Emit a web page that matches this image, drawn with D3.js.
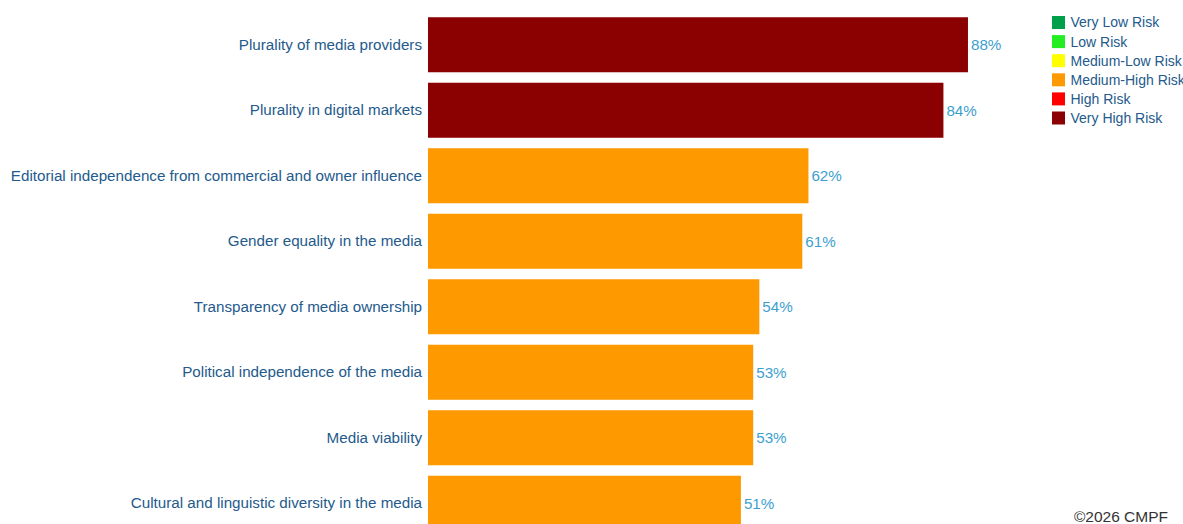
<!DOCTYPE html>
<html>
<head>
<meta charset="utf-8">
<script src="https://cdn.jsdelivr.net/npm/d3@7"></script>
<style>
  html, body { margin: 0; padding: 0; background: #fff; }
  svg { display: block; font-family: "Liberation Sans", Arial, sans-serif; }
</style>
</head>
<body>
<svg id="chart" width="1183" height="524"></svg>
<script>
// Indicator scores (percent risk), ordered from highest to lowest
const indicators = [
  "Plurality of media providers",
  "Plurality in digital markets",
  "Editorial independence from commercial and owner influence",
  "Gender equality in the media",
  "Transparency of media ownership",
  "Political independence of the media",
  "Media viability",
  "Cultural and linguistic diversity in the media"
];
const scores = [88, 84, 62, 61, 54, 53, 53, 51];
const riskBands = ["Very High Risk", "Very High Risk", "Medium-High Risk", "Medium-High Risk",
                   "Medium-High Risk", "Medium-High Risk", "Medium-High Risk", "Medium-High Risk"];

// Legend categories and their colours
const riskLevels = ["Very Low Risk", "Low Risk", "Medium-Low Risk", "Medium-High Risk", "High Risk", "Very High Risk"];
const riskColors = ["#00a04a", "#22ee22", "#ffff00", "#ff9900", "#ff0000", "#8b0000"];

const svg = d3.select("#chart");

const x = d3.scaleLinear().domain([0, 100]).range([428, 428 + 613.6]);
const y = d3.scaleBand().domain(indicators).range([12, 536]).paddingInner(0.16).paddingOuter(0.08);
const color = d3.scaleOrdinal().domain(riskLevels).range(riskColors);

const rows = indicators.map((name, i) => ({ name, value: scores[i], band: riskBands[i] }));

// Bars
svg.append("g").selectAll("rect").data(rows).join("rect")
  .attr("x", x(0))
  .attr("y", d => y(d.name))
  .attr("width", d => x(d.value) - x(0))
  .attr("height", y.bandwidth())
  .attr("fill", d => color(d.band));

// Category labels on the left
const yAxis = d3.axisLeft(y).tickSize(0).tickPadding(6);
const ga = svg.append("g").attr("transform", `translate(${x(0)},0)`).call(yAxis);
ga.select(".domain").remove();
ga.selectAll("text")
  .attr("font-size", 15.2)
  .attr("font-family", "'Liberation Sans', Arial, sans-serif")
  .attr("fill", "#245a8c");

// Value labels at the end of each bar
svg.append("g").selectAll("text").data(rows).join("text")
  .attr("x", d => x(d.value) + 3)
  .attr("y", d => y(d.name) + y.bandwidth() / 2)
  .attr("dy", "0.35em")
  .attr("font-size", 15.2)
  .attr("fill", "#3d9fcf")
  .text(d => d.value + "%");

// Legend
const legend = svg.append("g").attr("transform", "translate(1052,16)");
const items = legend.selectAll("g").data(riskLevels).join("g")
  .attr("transform", (d, i) => `translate(0,${i * 19.1})`);
items.append("rect").attr("width", 13).attr("height", 13).attr("fill", d => color(d));
items.append("text")
  .attr("x", 18.5).attr("y", 6.5).attr("dy", "0.35em")
  .attr("font-size", 14)
  .attr("fill", "#245a8c")
  .text(d => d);

// Copyright note
svg.append("text")
  .attr("x", 1168).attr("y", 522)
  .attr("text-anchor", "end")
  .attr("font-size", 15.5)
  .attr("fill", "#333")
  .text("©2026 CMPF");
</script>
</body>
</html>
